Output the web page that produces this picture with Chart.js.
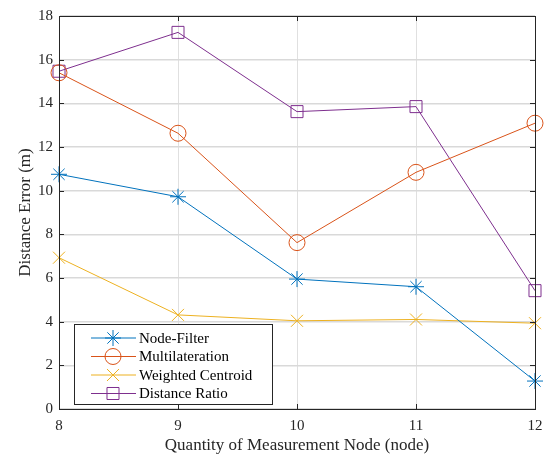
<!DOCTYPE html>
<html>
<head>
<meta charset="utf-8">
<script src="https://cdn.jsdelivr.net/npm/chart.js@4.4.0/dist/chart.umd.min.js"></script>
<style>
  html, body { margin: 0; padding: 0; background: #fff; }
</style>
</head>
<body>
<canvas id="errorChart" width="547" height="454"></canvas>
<script>
const nodeCounts = [8, 9, 10, 11, 12];
const nodeFilter = [10.75, 9.72, 5.95, 5.6, 1.28];
const multilateration = [15.4, 12.63, 7.62, 10.84, 13.09];
const weightedCentroid = [6.93, 4.31, 4.04, 4.1, 3.93];
const distanceRatio = [15.47, 17.25, 13.62, 13.85, 5.42];
const xTicks = [8, 9, 10, 11, 12];
const yTicks = [0, 2, 4, 6, 8, 10, 12, 14, 16, 18];

const serif = '"Liberation Serif", "Times New Roman", serif';
const axisColor = '#262626';

function toPoints(values) {
    return nodeCounts.map((n, i) => ({ x: n, y: values[i] }));
}

function makeSet(label, values, color, style, radius) {
    return {
        label: label,
        data: toPoints(values),
        borderColor: color,
        backgroundColor: color,
        borderWidth: 1,
        pointStyle: style,
        pointRadius: radius,
        pointHoverRadius: radius,
        pointBorderColor: color,
        pointBackgroundColor: 'rgba(0,0,0,0)',
        pointBorderWidth: 1,
        tension: 0,
        clip: false
    };
}

// MATLAB-like box with inward ticks
const boxTicks = {
    id: 'boxTicks',
    afterDraw(chart) {
        const ctx = chart.ctx;
        const a = chart.chartArea;
        const xs = chart.scales.x, ys = chart.scales.y;
        ctx.save();
        ctx.strokeStyle = axisColor;
        ctx.lineWidth = 1;
        ctx.beginPath();
        ctx.rect(Math.round(a.left) + 0.5, Math.round(a.top) + 0.5, Math.round(a.right - a.left), Math.round(a.bottom - a.top));
        xTicks.forEach(t => {
            const px = Math.round(xs.getPixelForValue(t)) + 0.5;
            ctx.moveTo(px, a.bottom); ctx.lineTo(px, a.bottom - 5);
            ctx.moveTo(px, a.top); ctx.lineTo(px, a.top + 5);
        });
        yTicks.forEach(t => {
            const py = Math.round(ys.getPixelForValue(t)) + 0.5;
            ctx.moveTo(a.left, py); ctx.lineTo(a.left + 5, py);
            ctx.moveTo(a.right, py); ctx.lineTo(a.right - 5, py);
        });
        ctx.stroke();
        ctx.restore();
    }
};

function drawMarker(ctx, style, r, x, y) {
    ctx.beginPath();
    if (style === 'circle') {
        ctx.arc(x, y, r, 0, Math.PI * 2);
    } else if (style === 'rect') {
        const s = r * Math.SQRT1_2;
        ctx.rect(x - s, y - s, 2 * s, 2 * s);
    } else if (style === 'crossRot') {
        const s = r * Math.SQRT1_2;
        ctx.moveTo(x - s, y - s); ctx.lineTo(x + s, y + s);
        ctx.moveTo(x - s, y + s); ctx.lineTo(x + s, y - s);
    } else if (style === 'star') {
        const s = r * Math.SQRT1_2;
        ctx.moveTo(x - r, y); ctx.lineTo(x + r, y);
        ctx.moveTo(x, y - r); ctx.lineTo(x, y + r);
        ctx.moveTo(x - s, y - s); ctx.lineTo(x + s, y + s);
        ctx.moveTo(x - s, y + s); ctx.lineTo(x + s, y - s);
    }
    ctx.stroke();
}

const boxLegend = {
    id: 'boxLegend',
    afterDraw(chart) {
        const ctx = chart.ctx;
        const a = chart.chartArea;
        const left = a.left + 15, w = 198, h = 80;
        const top = a.bottom - 5 - h;
        ctx.save();
        ctx.fillStyle = '#fff';
        ctx.fillRect(left, top, w, h);
        ctx.strokeStyle = axisColor;
        ctx.lineWidth = 1;
        ctx.strokeRect(Math.round(left) + 0.5, Math.round(top) + 0.5, w, h);
        ctx.font = '15px ' + serif;
        ctx.textBaseline = 'middle';
        chart.data.datasets.forEach((ds, i) => {
            const y = top + 14 + i * 18.5;
            ctx.strokeStyle = ds.borderColor;
            ctx.lineWidth = 1;
            ctx.beginPath();
            ctx.moveTo(left + 17, y); ctx.lineTo(left + 62, y);
            ctx.stroke();
            drawMarker(ctx, ds.pointStyle, ds.pointRadius, left + 39, y);
            ctx.fillStyle = '#000';
            ctx.fillText(ds.label, left + 65, y + 1);
        });
        ctx.restore();
    }
};

new Chart(document.getElementById('errorChart').getContext('2d'), {
    type: 'line',
    data: {
        datasets: [
            makeSet('Node-Filter', nodeFilter, '#0072BD', 'star', 8),
            makeSet('Multilateration', multilateration, '#D95319', 'circle', 8),
            makeSet('Weighted Centroid', weightedCentroid, '#EDB120', 'crossRot', 8.5),
            makeSet('Distance Ratio', distanceRatio, '#7E2F8E', 'rect', 8.5)
        ]
    },
    options: {
        responsive: false,
        animation: false,
        devicePixelRatio: 1,
        layout: { padding: { left: 0, right: 12, top: 16, bottom: 0 } },
        plugins: {
            legend: { display: false },
            tooltip: { enabled: false }
        },
        scales: {
            x: {
                type: 'linear',
                min: 8,
                max: 12,
                afterFit: s => { s.height = 45; s.paddingLeft = 0; s.paddingRight = 0; },
                afterBuildTicks: s => { s.ticks = xTicks.map(v => ({ value: v })); },
                ticks: { color: axisColor, font: { family: serif, size: 15 }, padding: 8 },
                grid: { color: '#e0e0e0', lineWidth: 1, drawTicks: false },
                border: { color: axisColor, width: 1 },
                title: {
                    display: true,
                    text: 'Quantity of Measurement Node (node)',
                    color: axisColor,
                    font: { family: serif, size: 17 },
                    padding: { top: 0, bottom: -2 }
                }
            },
            y: {
                min: 0,
                max: 18,
                afterFit: s => { s.width = 59; s.paddingTop = 0; s.paddingBottom = 0; },
                afterBuildTicks: s => { s.ticks = yTicks.map(v => ({ value: v })); },
                ticks: { color: axisColor, font: { family: serif, size: 15 }, padding: 6 },
                grid: { color: '#d9d9d9', lineWidth: 1.6, drawTicks: false },
                border: { color: axisColor, width: 1 },
                title: {
                    display: true,
                    text: 'Distance Error (m)',
                    color: axisColor,
                    font: { family: serif, size: 17 },
                    padding: { top: 15, bottom: 0 }
                }
            }
        }
    },
    plugins: [boxTicks, boxLegend]
});
</script>
</body>
</html>
